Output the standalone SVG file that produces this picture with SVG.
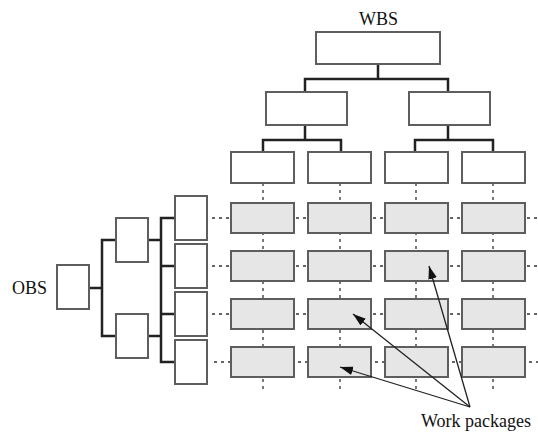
<svg xmlns="http://www.w3.org/2000/svg" width="538" height="432" viewBox="0 0 538 432">
<defs>
<style>
.box{fill:#fff;stroke:#5e5e5e;stroke-width:2}
.wp{fill:#e6e6e6;stroke:#5e5e5e;stroke-width:2}
.conn{fill:none;stroke:#222;stroke-width:2.5}
.dot{fill:none;stroke:#333;stroke-width:1.3;stroke-dasharray:3 4}
.arr{fill:none;stroke:#222;stroke-width:1.3;marker-end:url(#ah)}
.lbl{font-family:"Liberation Serif","Times New Roman",serif;font-size:18px;fill:#111}
</style>
<marker id="ah" viewBox="0 0 12 8" refX="12" refY="4" markerWidth="13" markerHeight="9" markerUnits="userSpaceOnUse" orient="auto">
<path d="M0,0 L12,4 L0,8 Z" fill="#111"/>
</marker>
</defs>
<rect width="538" height="432" fill="#fff"/>
<g id="connectors">
<path class="dot" d="M263,183V392 M340,183V392 M416,183V392 M493,183V392"/>
<path class="dot" d="M212,218H538 M212,266H538 M212,314H538 M214,362H538"/>
<path class="conn" d="M378,64V79 M305,92V79H448V92"/>
<path class="conn" d="M305,125V140 M263,152V140H341V152"/>
<path class="conn" d="M448,125V140 M415,152V140H493V152"/>
<path class="conn" d="M89,288H102 M116,240H102V336H116"/>
<path class="conn" d="M148,240H161 M148,336H161 M175,218H161V362H175 M161,266H175 M161,314H175"/>
</g>
<g id="wbs-root"><rect class="box" x="316" y="32" width="124" height="32"/></g>
<g id="wbs-1"><rect class="box" x="266" y="92" width="81" height="33"/></g>
<g id="wbs-2"><rect class="box" x="409" y="92" width="81" height="33"/></g>
<g id="wbs-1-1"><rect class="box" x="231" y="152" width="63" height="31"/></g>
<g id="wbs-1-2"><rect class="box" x="308" y="152" width="63" height="31"/></g>
<g id="wbs-2-1"><rect class="box" x="385" y="152" width="63" height="31"/></g>
<g id="wbs-2-2"><rect class="box" x="462" y="152" width="63" height="31"/></g>
<g id="obs-root"><rect class="box" x="57" y="265" width="32" height="44"/></g>
<g id="obs-1"><rect class="box" x="116" y="218" width="32" height="44"/></g>
<g id="obs-2"><rect class="box" x="116" y="314" width="32" height="44"/></g>
<g id="obs-1-1"><rect class="box" x="175" y="196" width="32" height="44"/></g>
<g id="obs-1-2"><rect class="box" x="175" y="244" width="32" height="44"/></g>
<g id="obs-2-1"><rect class="box" x="175" y="292" width="32" height="44"/></g>
<g id="obs-2-2"><rect class="box" x="175" y="340" width="32" height="44"/></g>
<g id="wp-r1">
<rect class="wp" x="231" y="203" width="63" height="30"/>
<rect class="wp" x="308" y="203" width="63" height="30"/>
<rect class="wp" x="385" y="203" width="63" height="30"/>
<rect class="wp" x="462" y="203" width="63" height="30"/>
</g>
<g id="wp-r2">
<rect class="wp" x="231" y="251" width="63" height="30"/>
<rect class="wp" x="308" y="251" width="63" height="30"/>
<rect class="wp" x="385" y="251" width="63" height="30"/>
<rect class="wp" x="462" y="251" width="63" height="30"/>
</g>
<g id="wp-r3">
<rect class="wp" x="231" y="299" width="63" height="30"/>
<rect class="wp" x="308" y="299" width="63" height="30"/>
<rect class="wp" x="385" y="299" width="63" height="30"/>
<rect class="wp" x="462" y="299" width="63" height="30"/>
</g>
<g id="wp-r4">
<rect class="wp" x="231" y="347" width="63" height="30"/>
<rect class="wp" x="308" y="347" width="63" height="30"/>
<rect class="wp" x="385" y="347" width="63" height="30"/>
<rect class="wp" x="462" y="347" width="63" height="30"/>
</g>
<g id="arrows">
<path class="arr" d="M470,407L429,266"/>
<path class="arr" d="M470,407L353,314"/>
<path class="arr" d="M470,407L340,367"/>
</g>
<g id="labels">
<text class="lbl" x="378.5" y="25" text-anchor="middle">WBS</text>
<text class="lbl" x="12" y="294">OBS</text>
<text class="lbl" x="421" y="427">Work packages</text>
</g>
</svg>
